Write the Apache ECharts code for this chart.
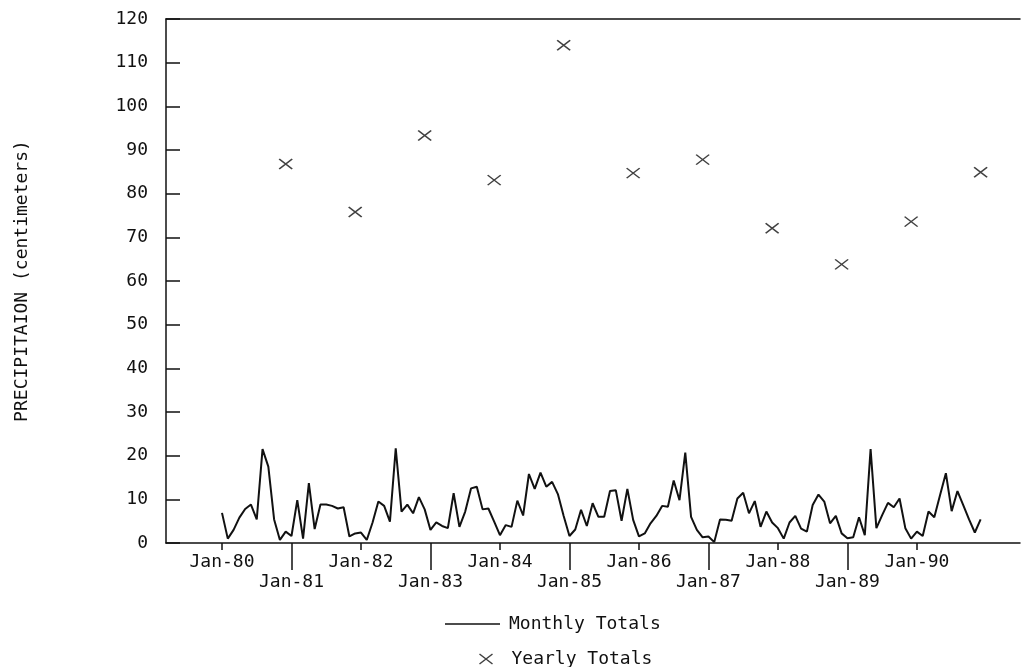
<!DOCTYPE html>
<html>
<head>
<meta charset="utf-8">
<script src="https://cdn.jsdelivr.net/npm/echarts@6/dist/echarts.min.js"></script>
<style>html,body{margin:0;padding:0;background:#fff}#c{width:1025px;height:667px}</style>
</head>
<body>
<div id="c"></div>
<script>
// Monthly totals, Jan-80 .. Dec-90 (cm)
const monthly1980 = [6.9, 1.0, 3.0, 5.8, 7.8, 8.8, 5.4, 21.5, 17.5, 5.4, 0.7, 2.6];
const monthly1981 = [1.6, 9.8, 1.0, 13.7, 3.2, 8.8, 8.8, 8.5, 7.9, 8.2, 1.5, 2.2];
const monthly1982 = [2.4, 0.7, 4.7, 9.5, 8.5, 4.9, 21.7, 7.2, 8.8, 6.8, 10.5, 7.7];
const monthly1983 = [3.0, 4.7, 3.9, 3.4, 11.4, 3.7, 7.2, 12.5, 12.9, 7.7, 7.9, 4.9];
const monthly1984 = [1.8, 4.1, 3.7, 9.7, 6.3, 15.8, 12.4, 16.1, 12.9, 14.0, 11.2, 6.2];
const monthly1985 = [1.6, 3.1, 7.6, 3.9, 9.1, 6.0, 6.0, 11.9, 12.1, 5.1, 12.4, 5.3];
const monthly1986 = [1.5, 2.2, 4.5, 6.2, 8.5, 8.3, 14.3, 9.8, 20.7, 6.0, 3.0, 1.3];
const monthly1987 = [1.5, 0.2, 5.4, 5.3, 5.1, 10.2, 11.5, 6.8, 9.6, 3.7, 7.2, 4.7];
const monthly1988 = [3.4, 1.0, 4.7, 6.2, 3.3, 2.6, 8.7, 11.1, 9.5, 4.5, 6.2, 2.2];
const monthly1989 = [1.1, 1.3, 5.9, 1.8, 21.5, 3.4, 6.4, 9.2, 8.2, 10.2, 3.4, 1.0];
const monthly1990 = [2.6, 1.6, 7.2, 5.9, 11.0, 16.0, 7.3, 11.9, 8.7, 5.4, 2.4, 5.4];
// Yearly totals, 1980 .. 1990 (cm), plotted at December of each year
const yearlyTotals = [86.8, 75.8, 93.3, 83.1, 114.0, 84.7, 87.8, 72.1, 63.8, 73.6, 84.9];
// X tick labels (January of each year)
const tickLabels = ['Jan-80','Jan-81','Jan-82','Jan-83','Jan-84','Jan-85','Jan-86','Jan-87','Jan-88','Jan-89','Jan-90'];

const monthly = [].concat(monthly1980, monthly1981, monthly1982, monthly1983, monthly1984,
  monthly1985, monthly1986, monthly1987, monthly1988, monthly1989, monthly1990);
const monthlyData = monthly.map((v, i) => [i, v]);
const yearlyData = yearlyTotals.map((v, k) => [k * 12 + 11, v]);
const evenTicks = tickLabels.map((_, k) => k * 12).filter((_, k) => k % 2 === 0);
const oddTicks = tickLabels.map((_, k) => k * 12).filter((_, k) => k % 2 === 1);

const FONT = 'DejaVu Sans Mono';
const xMin = -9.67, xMax = 137.8;
const crossPath = 'path://M0,0L13,10M13,0L0,10';

const chart = echarts.init(document.getElementById('c'), null, {renderer: 'canvas'});
chart.setOption({
  backgroundColor: '#fff',
  animation: false,
  textStyle: {fontFamily: FONT, color: '#111'},
  grid: {left: 166, right: 5, top: 19, bottom: 124, containLabel: false},
  xAxis: [
    {
      type: 'value', min: xMin, max: xMax, position: 'bottom',
      axisLine: {show: true, onZero: false, lineStyle: {color: '#111', width: 1.5}},
      axisTick: {show: true, inside: false, length: 7, customValues: evenTicks, lineStyle: {color: '#111', width: 1.5}},
      axisLabel: {show: true, customValues: evenTicks, margin: 10, fontSize: 18, color: '#111', fontFamily: FONT,
        formatter: v => tickLabels[Math.round(v / 12)]},
      splitLine: {show: false}
    },
    {
      type: 'value', min: xMin, max: xMax, position: 'bottom', offset: 0,
      axisLine: {show: false, onZero: false},
      axisTick: {show: true, inside: false, length: 27, customValues: oddTicks, lineStyle: {color: '#111', width: 1.5}},
      axisLabel: {show: true, customValues: oddTicks, margin: 30, fontSize: 18, color: '#111', fontFamily: FONT,
        formatter: v => tickLabels[Math.round(v / 12)]},
      splitLine: {show: false}
    },
    {
      type: 'value', min: xMin, max: xMax, position: 'top',
      axisLine: {show: true, onZero: false, lineStyle: {color: '#111', width: 1.5}},
      axisTick: {show: false}, axisLabel: {show: false}, splitLine: {show: false}
    }
  ],
  yAxis: {
    type: 'value', min: 0, max: 120, interval: 10,
    name: 'PRECIPITAION (centimeters)', nameLocation: 'middle', nameGap: 135, nameRotate: 90,
    nameTextStyle: {fontSize: 18, color: '#111', fontFamily: FONT},
    axisLine: {show: true, onZero: false, lineStyle: {color: '#111', width: 1.5}},
    axisTick: {show: true, inside: true, length: 14, lineStyle: {color: '#111', width: 1.5}},
    axisLabel: {fontSize: 18, color: '#111', margin: 18, fontFamily: FONT},
    splitLine: {show: false}
  },
  legend: [
    {
      data: [{name: 'Monthly Totals', icon: 'rect'}],
      left: 440, top: 610, itemWidth: 55, itemHeight: 1.5, itemGap: 10,
      textStyle: {fontSize: 18, color: '#111', fontFamily: FONT, padding: [0, 0, 0, 4]},
      itemStyle: {color: '#111'}
    },
    {
      data: [{name: 'Yearly Totals', icon: crossPath}],
      left: 472, top: 645, itemWidth: 13, itemHeight: 10, itemGap: 10,
      textStyle: {fontSize: 18, color: '#111', fontFamily: FONT, padding: [0, 0, 0, 14]},
      itemStyle: {color: 'none', borderColor: '#111', borderWidth: 1.5}
    }
  ],
  series: [
    {
      name: 'Monthly Totals', type: 'line', xAxisIndex: 0, data: monthlyData,
      showSymbol: false, symbol: 'none',
      lineStyle: {color: '#111', width: 2},
      itemStyle: {color: '#111'}
    },
    {
      name: 'Yearly Totals', type: 'scatter', xAxisIndex: 0, data: yearlyData,
      symbol: crossPath, symbolSize: [13, 10],
      itemStyle: {color: 'none', borderColor: '#111', borderWidth: 1.5}
    }
  ]
});
</script>
</body>
</html>
